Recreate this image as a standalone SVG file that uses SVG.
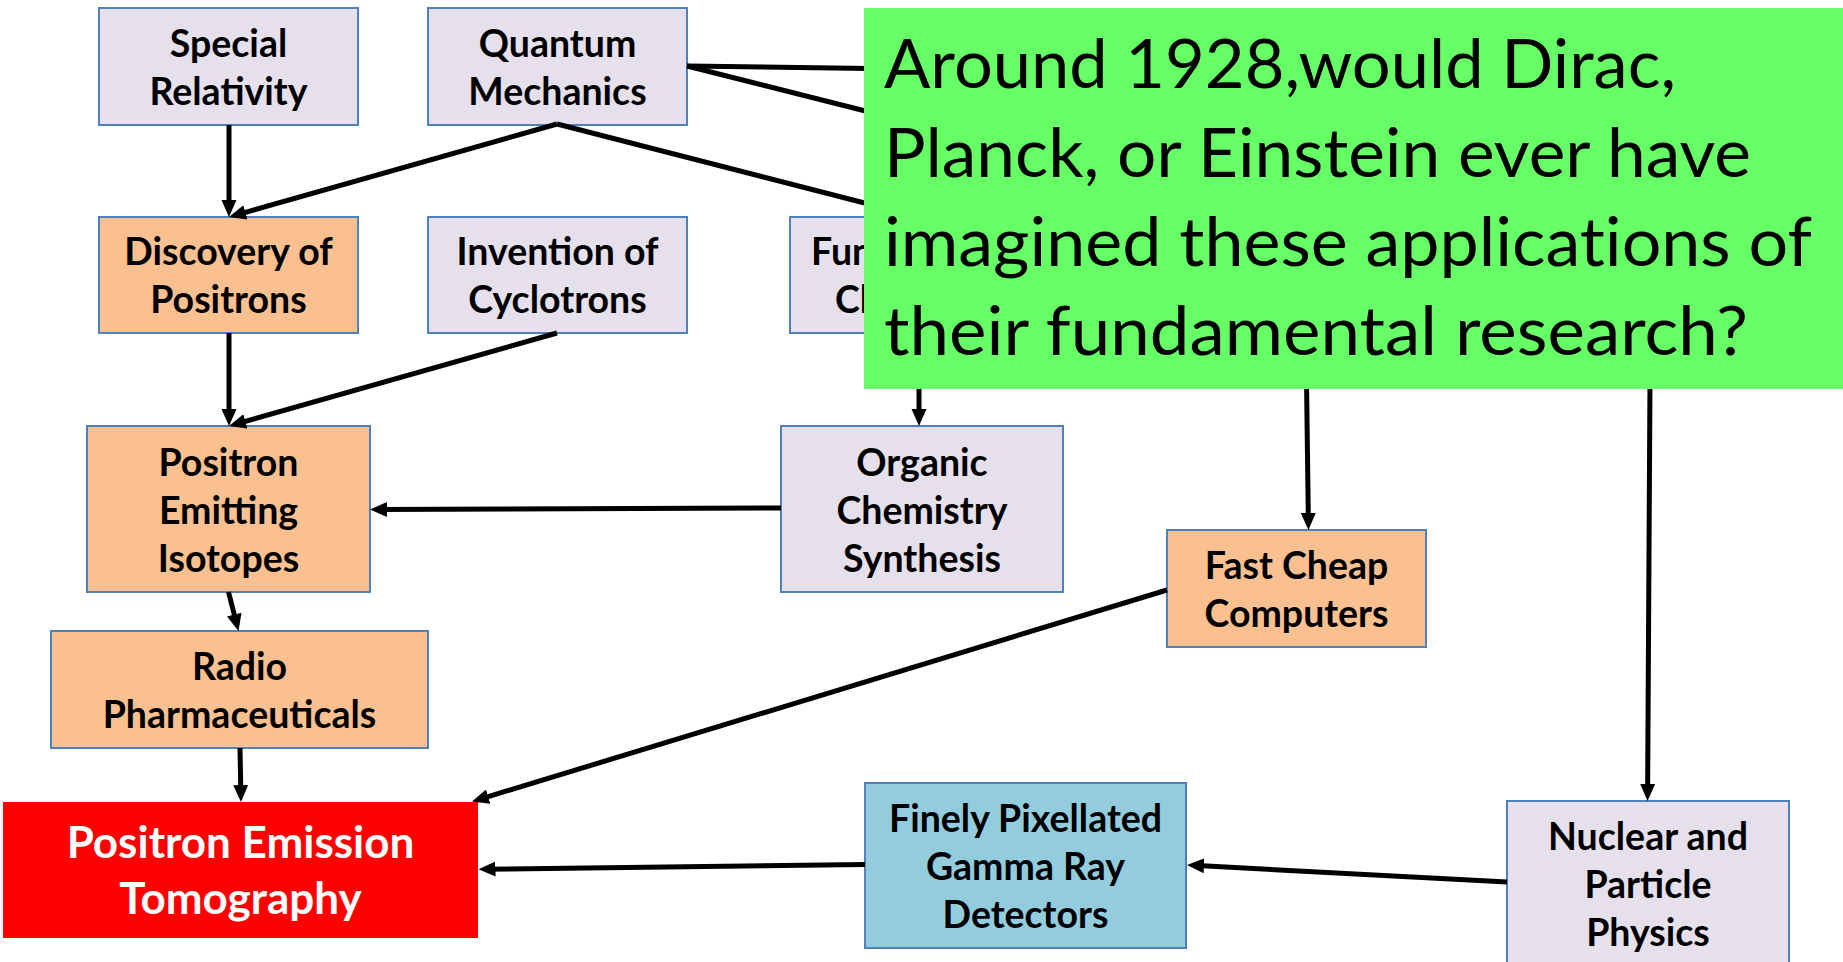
<svg xmlns="http://www.w3.org/2000/svg" width="1843" height="962" viewBox="0 0 1843 962">
<style>
.box{stroke:#4F81BD;stroke-width:2}
.lav{fill:#E5E0EC}
.org{fill:#FAC090}
.blu{fill:#93CDDD}
.t{font-family:Lato,"Liberation Sans",sans-serif;font-weight:bold;font-size:37.5px;fill:#000;text-anchor:middle}
.tw{font-family:Lato,"Liberation Sans",sans-serif;font-weight:bold;font-size:44px;fill:#fff;text-anchor:middle}
.ts{font-family:Lato,"Liberation Sans",sans-serif;font-weight:bold;font-size:37.5px;fill:#000}
.q{font-family:Lato,"Liberation Sans",sans-serif;font-size:68px;fill:#000;font-variant-ligatures:none}
.c{stroke:#000;stroke-width:5;fill:none}
.ca{marker-end:url(#ah)}
</style>
<defs>
<marker id="ah" markerUnits="userSpaceOnUse" markerWidth="17" markerHeight="16" refX="11" refY="8" orient="auto">
<path d="M0,0.5 L17,8 L0,15.5 z" fill="#000"/>
</marker>
</defs>
<rect width="1843" height="962" fill="#fff"/>

<g id="special-relativity">
<rect class="box lav" x="99" y="8" width="259" height="117"/>
<text class="t" x="228.5" y="57">Special</text>
<text class="t" x="228.5" y="104.5">Relativity</text>
</g>
<g id="quantum-mechanics">
<rect class="box lav" x="428" y="8" width="259" height="117"/>
<text class="t" x="557.5" y="57">Quantum</text>
<text class="t" x="557.5" y="104.5">Mechanics</text>
</g>
<g id="discovery-of-positrons">
<rect class="box org" x="99" y="217" width="259" height="116"/>
<text class="t" x="228.5" y="265">Discovery of</text>
<text class="t" x="228.5" y="313">Positrons</text>
</g>
<g id="invention-of-cyclotrons">
<rect class="box lav" x="428" y="217" width="259" height="116"/>
<text class="t" x="557.5" y="265">Invention of</text>
<text class="t" x="557.5" y="313">Cyclotrons</text>
</g>
<g id="fundamental-chemistry">
<rect class="box lav" x="790" y="217" width="259" height="116"/>
<text class="ts" x="811" y="265">Fun</text>
<text class="ts" x="835" y="313">Ch</text>
</g>
<g id="positron-emitting-isotopes">
<rect class="box org" x="87" y="426" width="283" height="166"/>
<text class="t" x="228.5" y="475.5">Positron</text>
<text class="t" x="228.5" y="523.5">Emitting</text>
<text class="t" x="228.5" y="571.5">Isotopes</text>
</g>
<g id="organic-chemistry-synthesis">
<rect class="box lav" x="781" y="426" width="282" height="166"/>
<text class="t" x="922" y="475.5">Organic</text>
<text class="t" x="922" y="523.5">Chemistry</text>
<text class="t" x="922" y="571.5">Synthesis</text>
</g>
<g id="radio-pharmaceuticals">
<rect class="box org" x="51" y="631" width="377" height="117"/>
<text class="t" x="239.5" y="679.5">Radio</text>
<text class="t" x="239.5" y="727.5">Pharmaceuticals</text>
</g>
<g id="fast-cheap-computers">
<rect class="box org" x="1167" y="530" width="259" height="117"/>
<text class="t" x="1296.5" y="578.5">Fast Cheap</text>
<text class="t" x="1296.5" y="626.5">Computers</text>
</g>
<g id="positron-emission-tomography">
<rect x="3" y="802" width="475" height="136" fill="#FF0000"/>
<text class="tw" x="240.5" y="857.5">Positron Emission</text>
<text class="tw" x="240.5" y="914">Tomography</text>
</g>
<g id="gamma-ray-detectors">
<rect class="box blu" x="865" y="783" width="321" height="165"/>
<text class="t" x="1025.5" y="831.5">Finely Pixellated</text>
<text class="t" x="1025.5" y="879.5">Gamma Ray</text>
<text class="t" x="1025.5" y="927.5">Detectors</text>
</g>
<g id="nuclear-particle-physics">
<rect class="box lav" x="1507" y="801" width="282" height="170"/>
<text class="t" x="1648" y="849.5">Nuclear and</text>
<text class="t" x="1648" y="897.5">Particle</text>
<text class="t" x="1648" y="945.5">Physics</text>
</g>

<g id="connectors">
<line class="c ca" x1="229" y1="125" x2="229" y2="211"/>
<line class="c ca" x1="557" y1="124" x2="234.8" y2="215.4"/>
<line class="c ca" x1="557" y1="124" x2="913.2" y2="215.5"/>
<line class="c" x1="687" y1="66" x2="905" y2="69"/>
<line class="c" x1="687" y1="66" x2="905" y2="121"/>
<line class="c ca" x1="919" y1="380" x2="919" y2="420"/>
<line class="c ca" x1="1306.5" y1="380" x2="1308.4" y2="524"/>
<line class="c ca" x1="1650" y1="380" x2="1647.6" y2="795"/>
<line class="c ca" x1="557" y1="333" x2="234.8" y2="424.4"/>
<line class="c ca" x1="229" y1="333" x2="229" y2="420"/>
<line class="c ca" x1="781" y1="508" x2="376" y2="509.5"/>
<line class="c ca" x1="228.5" y1="592" x2="237" y2="625.2"/>
<line class="c ca" x1="240" y1="748" x2="240.9" y2="796"/>
<line class="c ca" x1="1167" y1="590" x2="477.7" y2="799.8"/>
<line class="c ca" x1="865" y1="864.5" x2="484.5" y2="869.2"/>
<line class="c ca" x1="1507" y1="882" x2="1193" y2="865.3"/>
</g>

<g id="question-callout">
<rect x="864" y="8" width="979" height="381" fill="#66FF66"/>
<text class="q" x="884" y="88" textLength="792" lengthAdjust="spacingAndGlyphs">Around 1928,would Dirac,</text>
<text class="q" x="884" y="177" textLength="867" lengthAdjust="spacingAndGlyphs">Planck, or Einstein ever have</text>
<text class="q" x="884" y="266" textLength="928" lengthAdjust="spacingAndGlyphs">imagined these applications of</text>
<text class="q" x="884" y="355" textLength="864" lengthAdjust="spacingAndGlyphs">their fundamental research?</text>
</g>
</svg>
